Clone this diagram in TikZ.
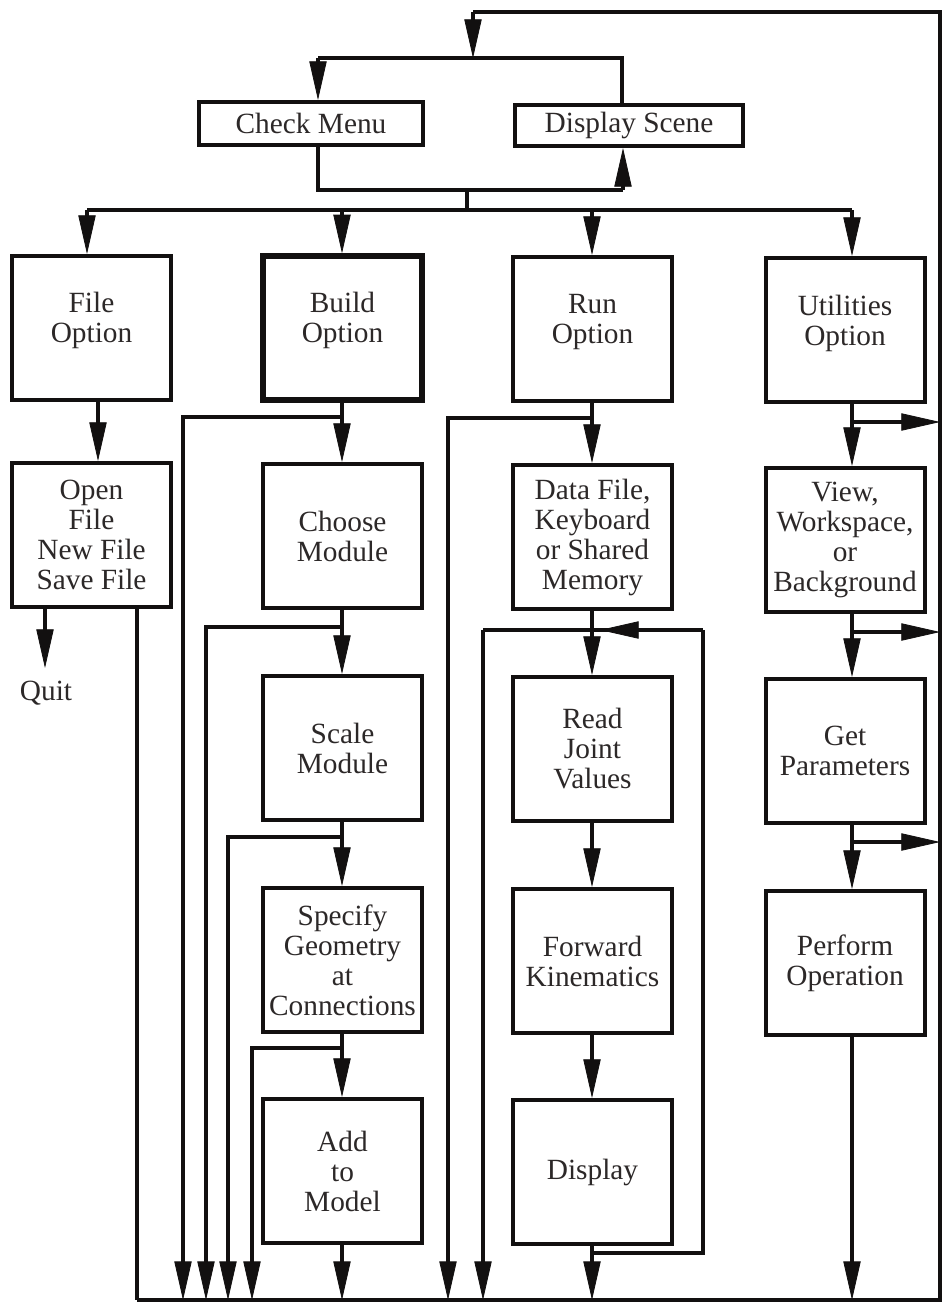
\documentclass[tikz,border=0pt]{standalone}
\usepackage{fontspec}
\setmainfont{Liberation Serif}
\usetikzlibrary{arrows.meta}
\definecolor{ink}{RGB}{18,16,16}
\definecolor{txt}{RGB}{44,40,40}
\begin{document}
\begin{tikzpicture}[x=0.75pt,y=-0.75pt,
  blk/.style={draw=ink, line width=3pt, fill=white, inner sep=0pt, align=center,
    text=txt, font=\fontsize{22}{22.5}\selectfont,
    minimum width=159*0.75pt, minimum height=144*0.75pt},
  thick blk/.style={blk, line width=4pt},
  bar/.style={blk, minimum height=43*0.75pt},
  wire/.style={draw=ink, line width=2.4pt},
  arr/.style={-{Triangle[length=29pt, width=13pt, line width=0.6pt]}},
  lbl/.style={inner sep=0pt, text=txt, font=\fontsize{22}{22.5}\selectfont}]
\useasboundingbox (0,0) rectangle (948,1310);

% top menu bar
\node[bar, minimum width=224*0.75pt] (chk) at (311,123.5) {Check Menu};
\node[bar, minimum width=228*0.75pt, minimum height=41*0.75pt] (scene) at (629,125.5) {Display Scene};

% option row (labels sit a little above the middle)
\node[blk] (file) at (91.5,328) {File\\Option\\[-6pt]\mbox{}};
\node[thick blk] (build) at (342.5,328) {Build\\Option\\[-6pt]\mbox{}};
\node[blk] (run) at (592.5,329) {Run\\Option\\[-8pt]\mbox{}};
\node[blk] (util) at (845,330) {Utilities\\Option\\[-8pt]\mbox{}};

% second row
\node[blk] (open) at (91.5,535) {Open\\File\\New File\\Save File};
\node[blk] (choose) at (342.5,536) {Choose\\Module};
\node[blk] (data) at (592.5,537) {Data File,\\Keyboard\\or Shared\\Memory};
\node[blk] (view) at (845,540) {View,\\Workspace,\\or\\Background};

% third row
\node[blk] (scale) at (342.5,748) {Scale\\Module};
\node[blk] (read) at (592.5,749) {Read\\Joint\\Values};
\node[blk] (get) at (845,751) {Get\\Parameters};

% fourth row
\node[blk] (spec) at (342.5,960) {Specify\\Geometry\\at\\Connections};
\node[blk] (fwd) at (592.5,961) {Forward\\Kinematics};
\node[blk] (perf) at (845,963) {Perform\\Operation};

% fifth row
\node[blk] (add) at (342.5,1171) {Add\\to\\Model};
\node[blk] (show) at (592.5,1172) {Display};

\node[lbl] (quit) at (46,693) {Quit};

% frame: bottom collector, right return, top entry
\coordinate (ne) at (940,12);
\coordinate (se) at (940,1300);
\coordinate (sw) at (137,1300);
\coordinate (t1) at (473,12);
\coordinate (t2) at (473,58);
\coordinate (tl) at (318,58);
\coordinate (tr) at (622,58);
\draw[wire] (sw) -- (se) -- (ne) -- (t1);
\draw[wire,arr] (t1) -- (t2);
\draw[wire] (tl) -- (tr) -- (tr |- scene.north);
\draw[wire,arr] (tl) -- (tl |- chk.north);

% check menu -> display scene, and the option bus
\coordinate (l1) at (318,190);
\coordinate (l2) at (623,190);
\coordinate (bm) at (467,190);
\coordinate (bm2) at (467,210);
\coordinate (b1) at (87,210);
\coordinate (b2) at (342,210);
\coordinate (b3) at (592,210);
\coordinate (b4) at (852,210);
\draw[wire] (chk.south -| l1) -- (l1) -- (l2);
\draw[wire,arr] (l2) -- (l2 |- scene.south);
\draw[wire] (bm) -- (bm2);
\draw[wire] (b1) -- (b4);
\draw[wire,arr] (b1) -- (b1 |- file.north);
\draw[wire,arr] (b2) -- (b2 |- build.north);
\draw[wire,arr] (b3) -- (b3 |- run.north);
\draw[wire,arr] (b4) -- (b4 |- util.north);

% file column
\coordinate (xf) at (98,0);
\coordinate (xq) at (45,0);
\coordinate (qa) at (45,668);
\coordinate (xo) at (137,0);
\draw[wire,arr] (file.south -| xf) -- (open.north -| xf);
\draw[wire,arr] (open.south -| xq) -- (qa);
\draw[wire] (open.south -| xo) -- (sw);

% build column
\coordinate (xb) at (342,0);
\draw[wire,arr] (build.south -| xb) -- (choose.north -| xb);
\draw[wire,arr] (choose.south -| xb) -- (scale.north -| xb);
\draw[wire,arr] (scale.south -| xb) -- (spec.north -| xb);
\draw[wire,arr] (spec.south -| xb) -- (add.north -| xb);
\draw[wire,arr] (add.south -| xb) -- (xb |- sw);
\coordinate (g1) at (183,417);
\coordinate (g2) at (206,627);
\coordinate (g3) at (228,837);
\coordinate (g4) at (252,1048);
\draw[wire,arr] (xb |- g1) -- (g1) -- (g1 |- sw);
\draw[wire,arr] (xb |- g2) -- (g2) -- (g2 |- sw);
\draw[wire,arr] (xb |- g3) -- (g3) -- (g3 |- sw);
\draw[wire,arr] (xb |- g4) -- (g4) -- (g4 |- sw);

% run column
\coordinate (xr) at (592,0);
\coordinate (h1) at (448,418);
\coordinate (rl1) at (483,630);
\coordinate (rl2) at (703,630);
\coordinate (rl3) at (592,1253);
\coordinate (rl4) at (703,1253);
\draw[wire,arr] (run.south -| xr) -- (data.north -| xr);
\draw[wire,arr] (data.south -| xr) -- (read.north -| xr);
\draw[wire,arr] (read.south -| xr) -- (fwd.north -| xr);
\draw[wire,arr] (fwd.south -| xr) -- (show.north -| xr);
\draw[wire,arr] (xr |- h1) -- (h1) -- (h1 |- sw);
\draw[wire] (rl1) -- (rl2);
\draw[wire,arr] (rl1) -- (rl1 |- sw);
\draw[wire] (show.south -| xr) -- (rl3) -- (rl4) -- (rl2);
\draw[wire,arr,shorten >=6pt] (rl2) -- (xr |- rl2);
\draw[wire,arr] (rl3) -- (xr |- sw);

% utilities column
\coordinate (xu) at (852,0);
\coordinate (u1) at (852,422);
\coordinate (u2) at (852,632);
\coordinate (u3) at (852,842);
\draw[wire,arr] (util.south -| xu) -- (view.north -| xu);
\draw[wire,arr] (view.south -| xu) -- (get.north -| xu);
\draw[wire,arr] (get.south -| xu) -- (perf.north -| xu);
\draw[wire,arr] (perf.south -| xu) -- (xu |- sw);
\draw[wire,arr] (u1) -- (u1 -| se);
\draw[wire,arr] (u2) -- (u2 -| se);
\draw[wire,arr] (u3) -- (u3 -| se);
\end{tikzpicture}
\end{document}
